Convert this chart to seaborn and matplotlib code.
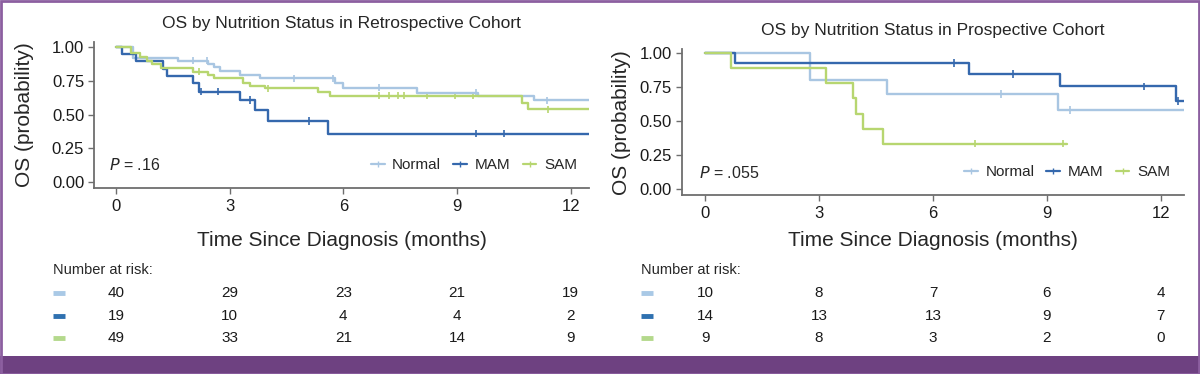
import numpy as np
import pandas as pd
import seaborn as sns
import matplotlib.pyplot as plt
from matplotlib.lines import Line2D
from matplotlib.patches import Rectangle
from matplotlib.transforms import blended_transform_factory

groups = ['Normal', 'MAM', 'SAM']
colors = ['#a9c6e2', '#3568ad', '#b7d670']
risk_colors = ['#a9c9e6', '#2f71b0', '#b4d98c']
risk_times = [0, 3, 6, 9, 12]

# Retrospective cohort: step times (months) and survival after each step
retro_normal_t = [0, 0.45, 1.63, 2.43, 2.6, 2.74, 3.27, 3.8, 5.78, 6.0, 7.94, 9.56, 11.02, 12.48]
retro_normal_s = [1.0, 0.918, 0.90, 0.88, 0.856, 0.824, 0.794, 0.77, 0.733, 0.70, 0.66, 0.64, 0.607, 0.607]
retro_mam_t = [0, 0.15, 0.54, 1.25, 1.35, 2.02, 2.2, 3.27, 3.67, 4.0, 5.6, 12.48]
retro_mam_s = [1.0, 0.947, 0.895, 0.842, 0.789, 0.733, 0.67, 0.61, 0.535, 0.453, 0.36, 0.36]
retro_sam_t = [0, 0.41, 0.63, 0.81, 0.94, 1.2, 2.04, 2.44, 2.6, 3.36, 3.54, 3.93, 5.34, 5.65, 10.72, 10.87, 12.48]
retro_sam_s = [1.0, 0.96, 0.93, 0.90, 0.874, 0.85, 0.82, 0.795, 0.77, 0.733, 0.715, 0.696, 0.67, 0.64, 0.59, 0.54, 0.54]
retro_normal_cens = [2.04, 2.39, 4.71, 5.72, 6.93, 9.5, 11.37]
retro_mam_cens = [2.24, 2.69, 3.55, 5.1, 9.5, 10.24]
retro_sam_cens = [2.19, 4.0, 6.93, 7.2, 7.44, 7.59, 8.2, 8.95, 9.43, 11.39]
retro_risk = [[40, 29, 23, 21, 19], [19, 10, 4, 4, 2], [49, 33, 21, 14, 9]]

# Prospective cohort
pro_normal_t = [0, 2.77, 4.79, 9.3, 12.6]
pro_normal_s = [1.0, 0.80, 0.70, 0.583, 0.583]
pro_mam_t = [0, 0.78, 6.96, 9.35, 12.4, 12.6]
pro_mam_s = [1.0, 0.929, 0.848, 0.757, 0.649, 0.649]
pro_sam_t = [0, 0.68, 3.17, 3.88, 3.96, 4.16, 4.69, 9.53]
pro_sam_s = [1.0, 0.889, 0.778, 0.667, 0.556, 0.444, 0.333, 0.333]
pro_normal_cens = [7.8, 9.6]
pro_mam_cens = [6.55, 8.1, 11.55, 12.45]
pro_sam_cens = [7.1, 9.43]
pro_risk = [[10, 8, 7, 6, 4], [14, 13, 13, 9, 7], [9, 8, 3, 2, 0]]

sns.set_style('white')
plt.rcParams['font.family'] = ['Liberation Sans', 'DejaVu Sans']


def curves_df(ts, ss):
    rows = []
    for g, t, s in zip(groups, ts, ss):
        rows.append(pd.DataFrame({'time': t, 'surv': s, 'group': g}))
    return pd.concat(rows, ignore_index=True)


def cens_df(ts, ss, cens):
    rows = []
    for g, t, s, c in zip(groups, ts, ss, cens):
        idx = np.searchsorted(t, c, side='right') - 1
        rows.append(pd.DataFrame({'time': c, 'surv': np.array(s)[idx], 'group': g}))
    return pd.concat(rows, ignore_index=True)


def draw_panel(ax, title, ts, ss, cens, risk, xlim, ylim, ptext, pxy, legxy, title_y, xlab_y, ylab_x):
    df = curves_df(ts, ss)
    sns.lineplot(data=df, x='time', y='surv', hue='group', hue_order=groups, palette=colors,
                 drawstyle='steps-post', estimator=None, sort=False, lw=1.7, legend=False, ax=ax)
    cdf = cens_df(ts, ss, cens)
    sns.scatterplot(data=cdf, x='time', y='surv', hue='group', hue_order=groups, palette=colors,
                    marker='|', s=28, linewidth=1.2, legend=False, ax=ax)
    ax.set_xlim(*xlim)
    ax.set_ylim(*ylim)
    ax.set_xticks(risk_times)
    ax.set_yticks([0, 0.25, 0.5, 0.75, 1.0])
    ax.set_yticklabels(['0.00', '0.25', '0.50', '0.75', '1.00'])
    for side in ['top', 'right']:
        ax.spines[side].set_visible(False)
    for side in ['left', 'bottom']:
        ax.spines[side].set_color('#6e6e6e')
        ax.spines[side].set_linewidth(1.3)
    ax.tick_params(axis='both', colors='#6e6e6e', labelcolor='#1a1a1a', labelsize=12,
                   length=4, width=1, left=True, bottom=True)
    ax.tick_params(axis='x', pad=4)
    ax.tick_params(axis='y', pad=3)
    ax.set_xlabel('Time Since Diagnosis (months)', fontsize=15, va='top')
    ax.set_ylabel('OS (probability)', fontsize=15)
    ax.xaxis.set_label_coords(0.5, xlab_y)
    ax.yaxis.set_label_coords(ylab_x, 0.5)
    ax.text(0.5, title_y, title, transform=ax.transAxes, ha='center', va='center', fontsize=12.5)
    ax.text(pxy[0], pxy[1], r'$P$ = ' + ptext, transform=ax.transAxes, ha='left', va='center',
            fontsize=11.5)
    handles = [Line2D([], [], color=c, lw=1.6, marker='|', markersize=5) for c in colors]
    ax.legend(handles, groups, loc='center right', bbox_to_anchor=legxy, ncol=3, frameon=False,
              fontsize=11, handlelength=0.9, handletextpad=0.5, columnspacing=0.8,
              borderpad=0, borderaxespad=0)

    # number at risk table
    fig = ax.figure
    tr = blended_transform_factory(ax.transData, fig.transFigure)
    x0 = ax.get_position().x0
    fig.text(x0 - 0.034, 0.278, 'Number at risk:', fontsize=10.5, ha='left', va='center')
    for i, vals in enumerate(risk):
        yy = [0.217, 0.156, 0.097][i]
        fig.add_artist(Line2D([x0 - 0.034, x0 - 0.024], [yy, yy], transform=fig.transFigure,
                              color=risk_colors[i], lw=3.5, solid_capstyle='butt'))
        for t, v in zip(risk_times, vals):
            ax.text(t, yy, str(v), transform=tr, ha='center', va='center', fontsize=11,
                    color='#1a1a1a')


fig = plt.figure(figsize=(12, 3.74), dpi=100)
ax1 = fig.add_axes([0.0783, 0.4965, 0.4125, 0.392])
ax2 = fig.add_axes([0.568, 0.4786, 0.4184, 0.3896])

draw_panel(ax1, 'OS by Nutrition Status in Retrospective Cohort',
           [retro_normal_t, retro_mam_t, retro_sam_t],
           [retro_normal_s, retro_mam_s, retro_sam_s],
           [retro_normal_cens, retro_mam_cens, retro_sam_cens], retro_risk,
           (-0.58, 12.48), (-0.047, 1.042), '.16', (0.03, 0.16), (0.976, 0.16), 1.125, -0.291, -0.121)
draw_panel(ax2, 'OS by Nutrition Status in Prospective Cohort',
           [pro_normal_t, pro_mam_t, pro_sam_t],
           [pro_normal_s, pro_mam_s, pro_sam_s],
           [pro_normal_cens, pro_mam_cens, pro_sam_cens], pro_risk,
           (-0.62, 12.6), (-0.044, 1.029), '.055', (0.035, 0.153), (0.973, 0.158), 1.132, -0.247, -0.10)

# purple frame and bottom band
purple = '#6e4181'
fig.add_artist(Rectangle((0, 0), 1, 0.049, transform=fig.transFigure, color=purple, lw=0))
fig.add_artist(Rectangle((0.001, 0.0), 0.998, 0.997, transform=fig.transFigure, fill=False,
                         edgecolor='#8c5fa0', lw=2))

fig.savefig('out.png', dpi=100)
